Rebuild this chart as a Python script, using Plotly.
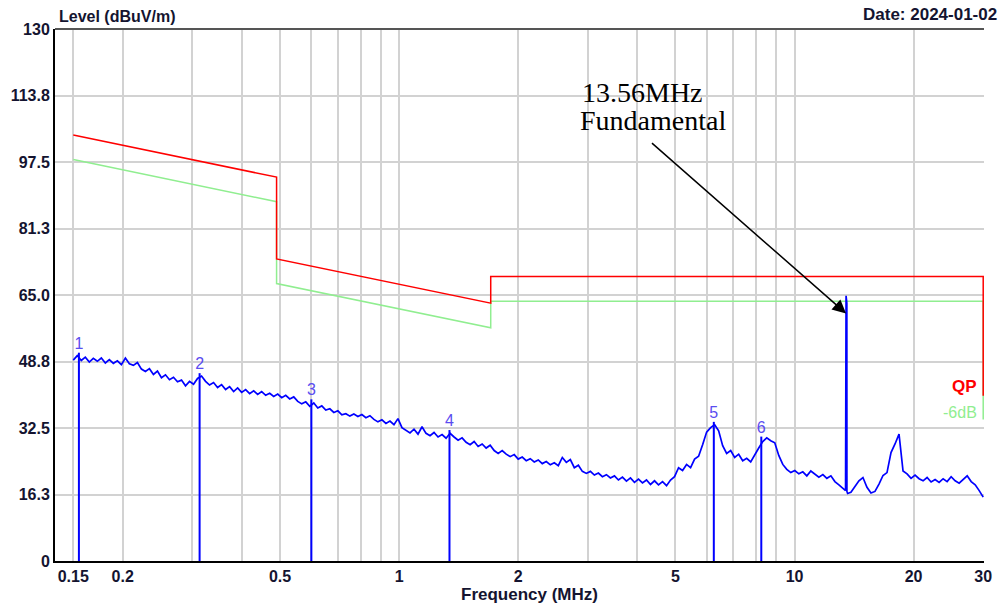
import numpy as np
import plotly.graph_objects as go

# ---------------- data ----------------
x_tickvals = [0.15, 0.2, 0.3, 0.4, 0.5, 0.6, 0.7, 0.8, 0.9, 1, 2, 3, 4, 5, 6, 7, 8, 9, 10, 20, 30]
x_ticklabels = {0.15: "0.15", 0.2: "0.2", 0.5: "0.5", 1: "1", 2: "2", 5: "5", 10: "10", 20: "20", 30: "30"}
y_tickvals = [0, 16.25, 32.5, 48.75, 65.0, 81.25, 97.5, 113.75, 130]
y_ticktext = ["0", "16.3", "32.5", "48.8", "65.0", "81.3", "97.5", "113.8", "130"]

# QP limit and -6dB line (MHz, dBuV/m)
qp_freq = [0.15, 0.49, 0.49, 1.705, 1.705, 30, 30]
qp_level = [104.1, 93.8, 73.8, 63.0, 69.5, 69.5, 40.4]
m6_freq = [0.15, 0.49, 0.49, 1.705, 1.705, 30, 30]
m6_level = [98.1, 87.8, 67.8, 57.0, 63.5, 63.5, 34.6]

# measured spectrum (sweep from 0.15 to 30 MHz)
trace_level = [
    49.1, 50.2, 49.0, 49.8, 48.6, 49.5, 48.8, 49.6, 48.4, 49.2,
    48.3, 48.9, 48.0, 49.6, 48.2, 47.8, 48.5, 46.9, 46.3, 47.0,
    45.6, 46.4, 44.8, 45.5, 44.3, 44.9, 43.8, 44.2, 42.8, 43.9,
    43.2, 44.6, 45.2, 43.9, 43.0, 43.6, 42.4, 43.1, 41.9, 42.6,
    41.4, 42.3, 41.2, 41.9, 40.9, 41.6, 40.7, 41.4, 40.5, 41.0,
    40.2, 40.8, 39.9, 40.5, 39.6, 40.1, 39.0, 38.4, 38.9, 37.8,
    38.6, 37.4, 37.9, 36.9, 37.2, 36.3, 36.7, 35.7, 36.0, 35.4,
    35.9, 35.3, 35.8, 35.0, 35.5, 34.6, 34.0, 34.5, 33.6, 34.2,
    33.3, 34.8, 32.6, 32.0, 31.3, 32.2, 31.0, 32.8, 31.2, 30.6,
    31.4, 30.3, 30.9, 30.0, 31.2, 30.3, 29.5, 30.1, 29.0, 28.4,
    29.2, 28.0, 28.6, 27.6, 28.3, 27.0, 26.3, 27.0, 26.1, 25.5,
    26.0, 24.9, 25.4, 24.5, 25.0, 24.2, 24.7, 23.8, 24.3, 23.5,
    24.0, 23.3, 25.3, 24.1, 24.8, 22.8, 23.4, 21.9, 21.4, 21.9,
    21.0, 21.5, 20.6, 21.1, 20.3, 20.8, 19.8, 20.5, 19.5, 20.3,
    19.2, 20.0, 19.1, 19.8, 18.7, 19.6, 18.6, 19.4, 18.4, 19.8,
    20.6, 22.8, 22.1, 23.6, 22.8, 24.9, 25.6, 28.4, 31.5, 32.6,
    33.3, 31.8, 28.2, 26.3, 27.0, 25.3, 26.1, 24.5, 25.1, 24.2,
    26.0, 27.6, 29.2, 30.1, 29.4, 28.9, 25.8, 23.6, 22.4, 21.6,
    22.1, 21.3, 21.8, 20.8, 22.0, 21.2, 20.5, 21.1, 20.2, 20.8,
    19.4, 18.6, 17.8, 17.0, 16.8, 18.2, 19.6, 20.4, 18.0, 16.6,
    17.0, 18.8, 20.9, 21.6, 26.5, 28.6, 31.0, 22.0, 21.3, 20.2,
    21.0, 20.1, 19.6, 20.4, 19.3, 19.9, 19.2, 20.1, 19.4, 20.6,
    19.6, 19.0, 19.8, 20.8, 19.4, 18.6, 17.2, 15.6,
]
# 13.56 MHz fundamental spike
spike_freq = [13.46, 13.50, 13.56, 13.62]
spike_level = [17.2, 64.8, 63.0, 16.5]

# marker peaks
marker_freq = [0.155, 0.313, 0.60, 1.341, 6.25, 8.24]
marker_level = [50.9, 45.9, 39.5, 32.0, 34.0, 30.4]
marker_names = ["1", "2", "3", "4", "5", "6"]

# ---------------- build ----------------
sweep_freq = np.geomspace(0.15, 30, len(trace_level))
f_all = np.concatenate([sweep_freq, spike_freq])
l_all = np.concatenate([trace_level, spike_level])
order = np.argsort(f_all)
f_all = f_all[order]
l_all = l_all[order]

mx, my = [], []
for f, v in zip(marker_freq, marker_level):
    mx += [f, f, None]
    my += [0, v, None]

FONT = "Liberation Sans, Arial, sans-serif"
TXT = "#141430"

fig = go.Figure()
fig.add_trace(go.Scatter(x=m6_freq, y=m6_level, mode="lines", cliponaxis=False,
                         line=dict(color="#90EE90", width=1.5), hoverinfo="skip"))
fig.add_trace(go.Scatter(x=qp_freq, y=qp_level, mode="lines", cliponaxis=False,
                         line=dict(color="#FF0000", width=1.5), hoverinfo="skip"))
fig.add_trace(go.Scatter(x=f_all, y=l_all, mode="lines",
                         line=dict(color="#0000FF", width=1.7)))
fig.add_trace(go.Scatter(x=mx, y=my, mode="lines",
                         line=dict(color="#0000FF", width=2), hoverinfo="skip"))
fig.add_trace(go.Scatter(x=marker_freq, y=marker_level, mode="text", text=marker_names,
                         textposition="top center", cliponaxis=False,
                         textfont=dict(family=FONT, size=16, color="#5a4cf0")))

x_lo = np.log10(0.15) - 18.3 / 396
x_hi = np.log10(30) + 0.002

fig.update_layout(
    width=998, height=608,
    margin=dict(l=55, r=14, t=29, b=47),
    paper_bgcolor="white", plot_bgcolor="white",
    showlegend=False,
    xaxis=dict(type="log", range=[x_lo, x_hi], tickmode="array", tickvals=x_tickvals,
               ticktext=[x_ticklabels.get(v, "") for v in x_tickvals],
               showgrid=True, gridcolor="#d2d2d2", gridwidth=2, automargin=False,
               showline=True, linecolor="black", linewidth=2, ticks="",
               tickfont=dict(family=FONT, size=16, color=TXT, weight="bold"),
               zeroline=False),
    yaxis=dict(range=[0, 130], tickmode="array", tickvals=y_tickvals, ticktext=y_ticktext,
               showgrid=True, gridcolor="#d2d2d2", gridwidth=2, automargin=False,
               showline=True, linecolor="black", linewidth=2, ticks="",
               tickfont=dict(family=FONT, size=16, color=TXT, weight="bold"),
               zeroline=False),
)

fig.add_shape(type="line", xref="paper", yref="paper", x0=0, x1=1, y0=1, y1=1,
              line=dict(color="#555555", width=2))


def px_x(p):
    return (p - 55) / 929


def px_y(p):
    return 1 - (p - 29) / 532


annos = [
    dict(text="Level (dBuV/m)", x=px_x(57), y=px_y(16), xanchor="left", yanchor="middle",
         font=dict(family=FONT, size=16, color=TXT, weight="bold")),
    dict(text="Date: 2024-01-02", x=px_x(861), y=px_y(15), xanchor="left", yanchor="middle",
         font=dict(family=FONT, size=17, color=TXT, weight="bold")),
    dict(text="Frequency (MHz)", x=px_x(529), y=px_y(594), xanchor="center", yanchor="middle",
         font=dict(family=FONT, size=17, color=TXT, weight="bold")),
    dict(text="QP", x=px_x(979), y=px_y(386), xanchor="right", yanchor="middle",
         font=dict(family=FONT, size=17, color="#FF0000", weight="bold")),
    dict(text="-6dB", x=px_x(979), y=px_y(412), xanchor="right", yanchor="middle",
         font=dict(family=FONT, size=16, color="#90EE90")),
    dict(text="13.56MHz", x=px_x(580), y=px_y(92.5), xanchor="left", yanchor="middle",
         font=dict(family="Liberation Serif, Times New Roman, serif", size=28, color="black")),
    dict(text="Fundamental", x=px_x(578), y=px_y(121), xanchor="left", yanchor="middle",
         font=dict(family="Liberation Serif, Times New Roman, serif", size=28, color="black")),
]
for a in annos:
    fig.add_annotation(xref="paper", yref="paper", showarrow=False, **a)

fig.add_annotation(x=np.log10(13.5), y=60.5, xref="x", yref="y", text="",
                   showarrow=True, ax=-195.6, ay=-171.6, axref="pixel", ayref="pixel",
                   arrowhead=2, arrowsize=1.8, arrowwidth=1.5, arrowcolor="black", standoff=0)

fig.write_html("out.html")
